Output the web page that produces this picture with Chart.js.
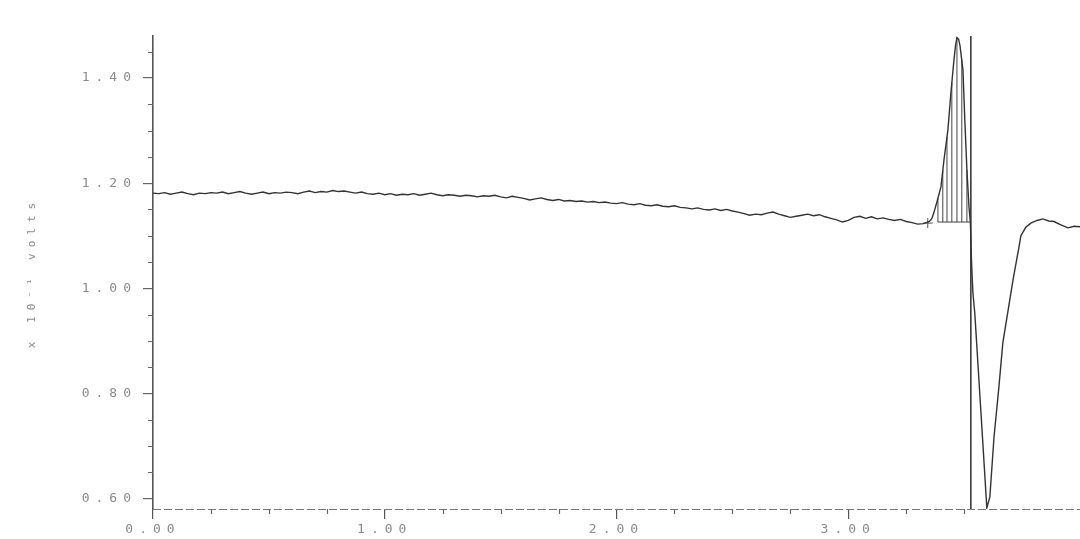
<!DOCTYPE html>
<html>
<head>
<meta charset="utf-8">
<script src="https://cdn.jsdelivr.net/npm/chart.js@4/dist/chart.umd.min.js"></script>
<style>
html,body{margin:0;padding:0;background:#ffffff;}
canvas{display:block;}
</style>
</head>
<body>
<canvas id="c" width="1080" height="539"></canvas>
<script>
// ---- data (time in minutes, signal in x10^-1 volts) ----
const baseTime = [
0.000,0.025,0.050,0.075,0.100,0.125,0.150,0.175,0.200,0.225,
0.250,0.275,0.300,0.325,0.350,0.375,0.400,0.425,0.450,0.475,
0.500,0.525,0.550,0.575,0.600,0.625,0.650,0.675,0.700,0.725,
0.750,0.775,0.800,0.825,0.850,0.875,0.900,0.925,0.950,0.975,
1.000,1.025,1.050,1.075,1.100,1.125,1.150,1.175,1.200,1.225,
1.250,1.275,1.300,1.325,1.350,1.375,1.400,1.425,1.450,1.475,
1.500,1.525,1.550,1.575,1.600,1.625,1.650,1.675,1.700,1.725,
1.750,1.775,1.800,1.825,1.850,1.875,1.900,1.925,1.950,1.975,
2.000,2.025,2.050,2.075,2.100,2.125,2.150,2.175,2.200,2.225,
2.250,2.275,2.300,2.325,2.350,2.375,2.400,2.425,2.450,2.475,
2.500,2.525,2.550,2.575,2.600,2.625,2.650,2.675,2.700,2.725,
2.750,2.775,2.800,2.825,2.850,2.875,2.900,2.925,2.950,2.975,
3.000,3.025,3.050,3.075,3.100,3.125,3.150,3.175,3.200,3.225,
3.250,3.275,3.300,3.325,3.350];
const baseVolts = [
1.181,1.180,1.182,1.179,1.181,1.183,1.180,1.178,1.181,1.180,
1.182,1.181,1.183,1.180,1.182,1.184,1.181,1.179,1.181,1.183,
1.180,1.182,1.181,1.183,1.182,1.180,1.183,1.185,1.182,1.184,
1.183,1.186,1.184,1.185,1.183,1.181,1.183,1.180,1.179,1.181,
1.178,1.180,1.177,1.179,1.178,1.180,1.177,1.179,1.181,1.178,
1.176,1.178,1.177,1.175,1.177,1.176,1.174,1.176,1.175,1.177,
1.174,1.172,1.175,1.173,1.171,1.168,1.170,1.172,1.169,1.167,
1.169,1.166,1.167,1.165,1.166,1.164,1.165,1.163,1.164,1.162,
1.161,1.163,1.160,1.159,1.161,1.158,1.157,1.159,1.156,1.155,
1.157,1.154,1.153,1.151,1.153,1.150,1.149,1.151,1.148,1.150,
1.147,1.145,1.142,1.139,1.141,1.140,1.143,1.145,1.141,1.138,
1.135,1.137,1.139,1.141,1.138,1.140,1.136,1.133,1.130,1.126,
1.129,1.135,1.137,1.133,1.136,1.132,1.134,1.131,1.129,1.131,
1.127,1.125,1.122,1.123,1.127];
const peakTime = [
3.360,3.369,3.385,3.400,3.413,3.430,3.443,3.456,3.463,3.469,
3.476,3.482,3.495,3.503,3.512,3.521,3.527,3.532,3.538,3.546,
3.572,3.598,3.611,3.629,3.650,3.667,3.685,3.711,3.737,3.745,
3.766,3.788,3.815,3.840,3.865,3.888,3.915,3.948,3.975,4.000];
const peakVolts = [
1.132,1.143,1.168,1.193,1.244,1.301,1.372,1.434,1.462,1.477,
1.474,1.462,1.415,1.320,1.225,1.155,1.124,1.050,0.991,0.953,
0.768,0.582,0.603,0.717,0.812,0.896,0.945,1.016,1.079,1.100,
1.116,1.124,1.129,1.132,1.128,1.127,1.121,1.115,1.118,1.117];
// integration hatching under the peak
const hatchTime = [3.387,3.408,3.426,3.447,3.469,3.490,3.512];
const hatchTop  = [1.171,1.224,1.288,1.391,1.477,1.435,1.225];
const hatchBase = 1.126;
// peak end marker and start mark
const markerTime = 3.529;
const startMark = {x:3.343, y:1.124};
// axes
const xMin = 0, xMax = 4.0, yMin = 0.58, yMax = 1.48;
const xTicks = [0,1,2,3];
const xTickLabels = ['0.00','1.00','2.00','3.00'];
const yTicks = [0.6,0.8,1.0,1.2,1.4];
const yTickLabels = ['0.60','0.80','1.00','1.20','1.40'];
const xMinorTicks = [0.25,0.5,0.75,1.25,1.5,1.75,2.25,2.5,2.75,3.25,3.5];
const yMinorTicks = [0.65,0.70,0.75,0.85,0.90,0.95,1.05,1.10,1.15,1.25,1.30,1.35,1.45];
const yTitle = 'x 10\u207B\u00B9 volts';

// ---- build datasets ----
const trace = [];
baseTime.forEach((t,i)=>trace.push({x:t,y:baseVolts[i]}));
peakTime.forEach((t,i)=>trace.push({x:t,y:peakVolts[i]}));
const hatch = [];
hatchTime.forEach((t,i)=>{hatch.push({x:t,y:hatchBase});hatch.push({x:t,y:hatchTop[i]});hatch.push({x:t,y:null});});
hatch.push({x:hatchTime[0],y:hatchBase});hatch.push({x:markerTime,y:hatchBase});

const LS = '6px';
const spacingPlugin = {
  id:'spacing',
  beforeLayout(chart){ chart.ctx.letterSpacing = LS; },
  beforeDraw(chart){ chart.ctx.letterSpacing = LS; }
};
const axisPlugin = {
  id:'axisExtras',
  beforeDatasetsDraw(chart){
    const ctx = chart.ctx, xs = chart.scales.x, ys = chart.scales.y;
    ctx.save();
    // dashed time axis
    ctx.strokeStyle = '#777'; ctx.lineWidth = 1.2; ctx.setLineDash([8,3]);
    const yb = Math.round(ys.bottom)+0.5;
    ctx.beginPath(); ctx.moveTo(xs.left, yb); ctx.lineTo(xs.right, yb); ctx.stroke();
    ctx.setLineDash([]);
    // minor ticks
    ctx.strokeStyle = '#666';
    ctx.beginPath();
    yMinorTicks.forEach(v=>{const p = Math.round(ys.getPixelForValue(v))+0.5; ctx.moveTo(xs.left-5,p); ctx.lineTo(xs.left,p);});
    xMinorTicks.forEach(v=>{const p = Math.round(xs.getPixelForValue(v))+0.5; ctx.moveTo(p,ys.bottom); ctx.lineTo(p,ys.bottom+5);});
    ctx.stroke();
    ctx.restore();
  }
};

new Chart(document.getElementById('c'), {
  type:'line',
  data:{datasets:[
    {data:trace, borderColor:'#333', borderWidth:1.4, pointRadius:0, tension:0},
    {data:hatch, borderColor:'#444', borderWidth:1, pointRadius:0, spanGaps:false, tension:0},
    {data:[{x:markerTime,y:yMin},{x:markerTime,y:yMax}], borderColor:'#3a3a3a', borderWidth:1.6, pointRadius:0},
    {type:'scatter', data:[startMark], pointStyle:'cross', pointRadius:5, borderColor:'#555', borderWidth:1, backgroundColor:'#555'}
  ]},
  options:{
    responsive:false, animation:false, devicePixelRatio:1,
    layout:{autoPadding:false, padding:{top:36,right:0,left:0,bottom:0}},
    plugins:{legend:{display:false}, tooltip:{enabled:false}},
    scales:{
      x:{type:'linear', min:xMin, max:xMax,
        afterBuildTicks(s){ s.ticks = xTicks.map(v=>({value:v})); },
        afterFit(s){ s.height = 30; s.paddingRight = 0; s.paddingLeft = 0; },
        border:{display:false},
        grid:{drawOnChartArea:false, drawTicks:true, tickLength:10, color:'#555', lineWidth:1.2},
        ticks:{color:'#8a8a8a', padding:3, maxRotation:0, autoSkip:false,
          font:{family:'DejaVu Sans Mono', size:13},
          callback:(v)=>{const i = xTicks.indexOf(v); return i>=0 ? xTickLabels[i] : '';}}
      },
      y:{type:'linear', min:yMin, max:yMax,
        afterBuildTicks(s){ s.ticks = yTicks.map(v=>({value:v})); },
        afterFit(s){ s.width = 153; s.paddingTop = 0; s.paddingBottom = 0; },
        border:{display:true, color:'#555', width:1.6},
        grid:{drawOnChartArea:false, drawTicks:true, tickLength:10, color:'#666', lineWidth:1.2},
        ticks:{color:'#8a8a8a', padding:6, autoSkip:false,
          font:{family:'DejaVu Sans Mono', size:13},
          callback:(v)=>{const i = yTicks.findIndex(t=>Math.abs(t-v)<1e-6); return i>=0 ? yTickLabels[i] : '';}},
        title:{display:true, text:yTitle, color:'#8a8a8a', padding:{top:26,bottom:0},
          font:{family:'DejaVu Sans Mono', size:11}}
      }
    }
  },
  plugins:[spacingPlugin, axisPlugin]
});
</script>
</body>
</html>
